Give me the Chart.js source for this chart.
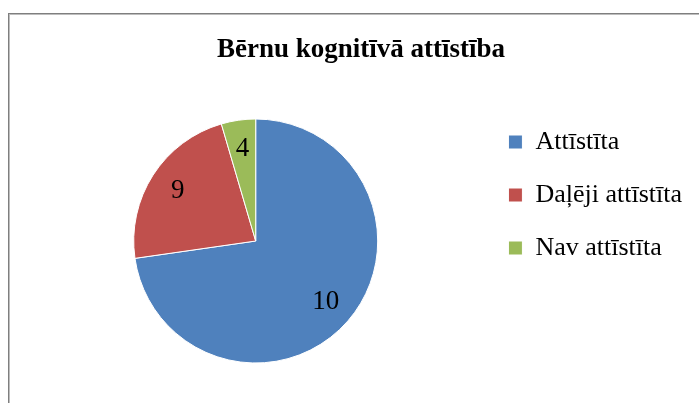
<!DOCTYPE html>
<html>
<head>
<meta charset="utf-8">
<script src="https://cdn.jsdelivr.net/npm/chart.js@4/dist/chart.umd.min.js"></script>
<style>
  html, body { margin: 0; padding: 0; background: #fff; }
  #wrap { position: relative; width: 699px; height: 403px; overflow: hidden; }
  #frame {
    position: absolute; left: 8px; top: 13px; width: 800px; height: 500px;
    border-left: 1px solid #7f7f7f; border-top: 1px solid #7f7f7f;
    box-shadow: inset 1px 1px 0 #bdbdbd;
  }
  #myChart { position: absolute; left: 0; top: 0; }
</style>
</head>
<body>
<div id="wrap">
  <div id="frame"></div>
  <canvas id="myChart" width="699" height="403"></canvas>
</div>
<script>
// categories and values
var categories = ['Attīstīta', 'Daļēji attīstīta', 'Nav attīstīta'];
// slice sizes (from the angles of the slices)
var sliceValues = [16, 5, 1];
// numbers printed on the slices
var sliceLabels = ['10', '9', '4'];
var colors = ['#4F81BD', '#C0504D', '#9BBB59'];

// writes the label inside each slice
var sliceText = {
  id: 'sliceText',
  afterDatasetsDraw: function(chart) {
    var ctx = chart.ctx;
    var meta = chart.getDatasetMeta(0);
    ctx.save();
    ctx.font = '27px "Liberation Serif"';
    ctx.fillStyle = '#000';
    ctx.textAlign = 'center';
    ctx.textBaseline = 'middle';
    meta.data.forEach(function(arc, i) {
      var p = arc.getProps(['x', 'y', 'startAngle', 'endAngle', 'outerRadius'], true);
      var mid = (p.startAngle + p.endAngle) / 2;
      var r = p.outerRadius * 0.76;
      ctx.fillText(sliceLabels[i], p.x + Math.cos(mid) * r, p.y + Math.sin(mid) * r);
    });
    ctx.restore();
  }
};

var ctx = document.getElementById('myChart').getContext('2d');
var myChart = new Chart(ctx, {
  type: 'pie',
  data: {
    labels: categories,
    datasets: [{
      data: sliceValues,
      backgroundColor: colors,
      borderColor: '#fff',
      borderWidth: 1
    }]
  },
  options: {
    responsive: false,
    animation: false,
    radius: 122,
    layout: { padding: { left: 30, right: 7, top: 0, bottom: 23 } },
    plugins: {
      title: {
        display: true,
        text: 'Bērnu kognitīvā attīstība',
        color: '#000',
        font: { family: '"Liberation Serif"', size: 27, weight: 'bold' },
        padding: { top: 33.8, bottom: 35.8 }
      },
      legend: {
        position: 'right',
        align: 'start',
        fullSize: false,
        labels: {
          color: '#000',
          font: { family: '"Liberation Serif"', size: 26 },
          boxWidth: 14,
          boxHeight: 14,
          padding: 27
        }
      },
      tooltip: { enabled: false }
    }
  },
  plugins: [sliceText]
});
</script>
</body>
</html>
